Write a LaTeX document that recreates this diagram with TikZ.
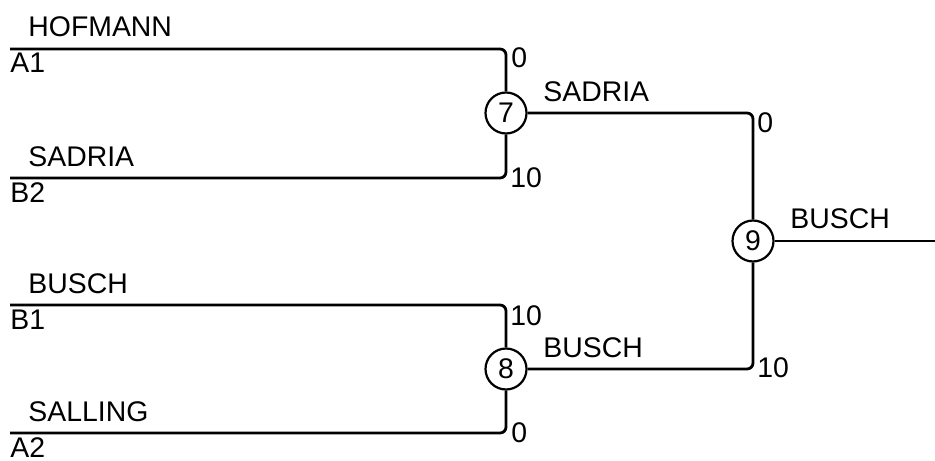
\documentclass[tikz,border=0pt]{standalone}
\usepackage{fontspec}
\setmainfont{Liberation Sans}
\begin{document}
\begin{tikzpicture}[x=0.5pt,y=-0.5pt,
	every node/.style={font=\fontsize{14.2}{16}\selectfont},
	line/.style={line width=1.4pt,rounded corners=3pt},
	game/.style={circle,draw,line width=1.1pt,minimum size=20.5pt,inner sep=0pt,fill=white},
	lbl/.style={anchor=base west,inner sep=0pt}]
	
		\useasboundingbox (0,0) rectangle (935,460);
	
		\node[game] (g7) at (506,113) {7};
		\node[game] (g8) at (506,369) {8};
		\node[game] (g9) at (753,241) {9};
	
		\coordinate (a1) at (10,49);
		\coordinate (b2) at (10,178);
		\coordinate (b1) at (10,305);
		\coordinate (a2) at (10,433);
		\coordinate (win) at (935,241);
	
		\draw[line] (a1) -| (g7);
		\draw[line] (b2) -| (g7);
		\draw[line] (b1) -| (g8);
		\draw[line] (a2) -| (g8);
		\draw[line] (g7) -| (g9);
		\draw[line] (g8) -| (g9);
		\draw[line] (g9) -- (win);
	
		\node[lbl] (n1) at (28,37) {HOFMANN};
		\node[lbl] (s1) at (10,73) {A1};
		\node[lbl] (n2) at (28,166) {SADRIA};
		\node[lbl] (s2) at (10,202) {B2};
		\node[lbl] (n3) at (28,293) {BUSCH};
		\node[lbl] (s3) at (10,329) {B1};
		\node[lbl] (n4) at (28,421) {SALLING};
		\node[lbl] (s4) at (10,457) {A2};
	
		\node[lbl] (w7) at (543,101) {SADRIA};
		\node[lbl] (w8) at (543,357) {BUSCH};
		\node[lbl] (w9) at (790,228) {BUSCH};
	
		\node[lbl] (p1) at (511,68) {0};
		\node[lbl] (p2) at (510,187) {10};
		\node[lbl] (p3) at (510,325) {10};
		\node[lbl] (p4) at (511,442) {0};
		\node[lbl] (p5) at (757,132) {0};
		\node[lbl] (p6) at (757,377) {10};
	\end{tikzpicture}
\end{document}
